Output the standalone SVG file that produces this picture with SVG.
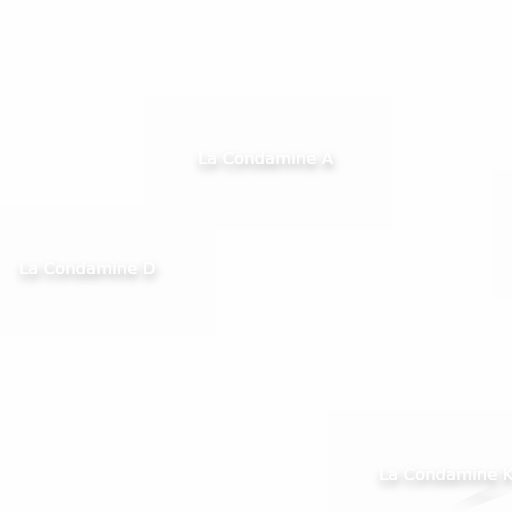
<svg xmlns="http://www.w3.org/2000/svg" width="512" height="512" viewBox="0 0 512 512">
<defs>
<filter id="sh" x="-20%" y="-100%" width="140%" height="300%">
<feGaussianBlur in="SourceAlpha" stdDeviation="4.5"/>
<feOffset dx="1" dy="5" result="b"/>
<feFlood flood-color="#000" flood-opacity="0.35"/>
<feComposite in2="b" operator="in" result="s"/>
<feMerge><feMergeNode in="s"/><feMergeNode in="SourceGraphic"/></feMerge>
</filter>
<linearGradient id="streak" x1="0" y1="1" x2="1" y2="0">
<stop offset="0" stop-color="#fdfdfd" stop-opacity="0"/>
<stop offset="0.5" stop-color="#ebebeb"/>
<stop offset="1" stop-color="#fdfdfd" stop-opacity="0"/>
</linearGradient>
</defs>
<style>
.lbl{font-family:"DejaVu Sans","Liberation Sans",sans-serif;font-size:16.5px;fill:#ffffff;filter:url(#sh)}
.area{fill:#fdfdfd}
</style>
<rect width="512" height="512" fill="#fefefe"/>
<g id="areas">
<rect class="area" x="145" y="95" width="248" height="135"/>
<rect class="area" x="0" y="203" width="215" height="134"/>
<rect class="area" x="327" y="410" width="185" height="102"/>
<rect class="area" x="493" y="170" width="19" height="130"/>
<path d="M440 512 Q480 490 512 478 L512 492 Q485 502 462 512 Z" fill="url(#streak)" opacity="0.6"/>
</g>
<g id="node-A"><text class="lbl" x="198" y="164">La Condamine A</text></g>
<g id="node-D"><text class="lbl" x="19" y="274">La Condamine D</text></g>
<g id="node-K"><text class="lbl" x="379" y="480">La Condamine K</text></g>
<g id="connectors"></g>
</svg>
